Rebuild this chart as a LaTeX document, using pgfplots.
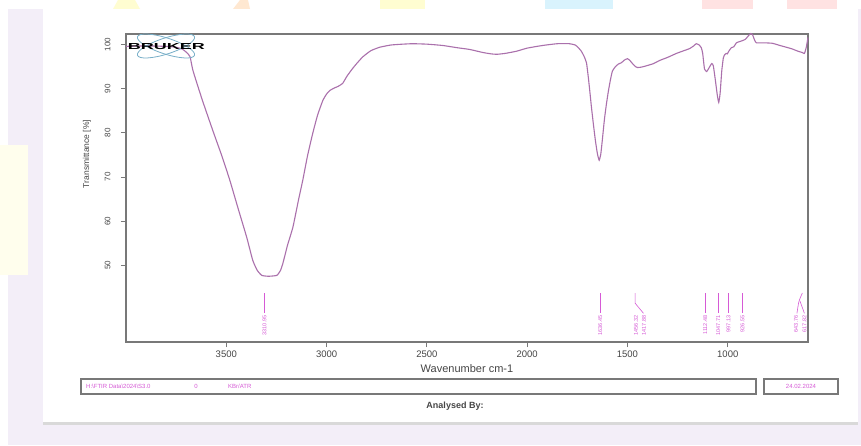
\documentclass[border=0pt]{standalone}
\usepackage{pgfplots}
\pgfplotsset{compat=1.18}
\usepackage{fontspec}
\setmainfont{Liberation Sans}
\definecolor{curve}{RGB}{170,112,172}
\definecolor{peak}{RGB}{214,90,214}
\definecolor{frame}{RGB}{120,120,120}
\definecolor{lav}{RGB}{243,238,248}
\definecolor{txt}{RGB}{70,70,70}
\definecolor{logoblue}{RGB}{120,175,200}
\pgfplotstableread{
wn T
4000 99.6
3900 99.7
3800 99.6
3750 99.4
3720 99.0
3700 98.3
3681 97.3
3666 94.1
3620 87.5
3567 80.5
3520 74.5
3482 69.2
3440 62.7
3398 56.3
3368 51.1
3345 48.8
3323 47.7
3290 47.5
3248 47.7
3230 48.8
3218 50.4
3195 54.5
3168 58.6
3140 64.8
3119 69.2
3095 74.8
3069 79.9
3045 84.0
3019 87.3
3000 88.8
2984 89.6
2960 90.2
2944 90.5
2920 91.2
2899 92.8
2870 94.6
2850 95.7
2820 97.2
2780 98.6
2735 99.4
2680 99.9
2620 100.1
2571 100.2
2500 100.1
2421 99.8
2350 99.3
2287 98.9
2220 98.2
2180 97.9
2152 97.8
2110 98.0
2053 98.5
2000 99.2
1923 99.8
1850 100.2
1789 100.2
1760 99.9
1749 99.5
1730 98.5
1715 97.2
1704 95.8
1695 92.5
1689 90.0
1680 86.0
1670 82.0
1660 78.3
1650 75.3
1641 73.8
1633 75.2
1625 78.5
1615 83.0
1605 86.5
1595 89.5
1585 92.0
1575 94.0
1560 95.0
1545 95.6
1530 95.9
1515 96.5
1500 96.8
1488 96.4
1475 95.7
1460 95.0
1450 94.8
1430 94.9
1405 95.2
1370 95.7
1340 96.4
1300 97.1
1256 98.0
1220 98.6
1190 99.1
1170 99.7
1157 100.2
1145 100.0
1132 99.3
1125 98.0
1116 94.5
1105 93.9
1095 94.6
1080 95.7
1072 95.2
1062 92.0
1052 88.5
1045 86.9
1038 89.0
1030 94.0
1022 97.0
1017 97.6
1008 98.0
1002 97.9
995 98.5
982 99.3
970 99.5
957 100.4
940 100.7
927 100.9
912 101.2
897 102.0
885 102.5
877 102.3
866 101.0
857 100.4
820 100.4
778 100.3
740 99.8
700 99.3
678 99.0
650 98.5
628 98.2
618 98.0
609 99.3
600 101.6
}\spectrum
\begin{document}
\begin{tikzpicture}[x=1pt,y=1pt]
% page background
\useasboundingbox (0,0) rectangle (861,445);
\fill[white] (0,0) rectangle (861,445);
\fill[lav] (8,0) rectangle (861,436);
\fill[yellow!7] (0,170) rectangle (28,300);
% watermark blobs at top
\fill[yellow!18] (113,436) -- (140,436) -- (135,445) -- (118,445) -- cycle;
\fill[orange!18] (233,436) -- (250,436) -- (248,445) -- (240,445) -- cycle;
\fill[yellow!18] (380,436) rectangle (425,445);
\fill[cyan!15] (545,436) rectangle (613,445);
\fill[pink!45] (702,436) rectangle (753,445);
\fill[pink!45] (787,436) rectangle (837,445);
% white card
\fill[black!15] (43,20) rectangle (858,23);
\fill[white] (43,23) rectangle (858,436);
% axis
\begin{axis}[
  at={(126pt,103pt)}, anchor=south west,
  scale only axis, width=682pt, height=308pt,
  x dir=reverse, xmin=600, xmax=4000,
  ymin=32.6, ymax=102.4,
  axis line style={frame, line width=1.3pt},
  xtick={1000,1500,2000,2500,3000,3500},
  ytick={50,60,70,80,90,100},
  tick align=outside, tick pos=left,
  major tick length=5pt,
  every tick/.style={frame, line width=0.8pt},
  /pgf/number format/assume math mode=true,
  /pgf/number format/1000 sep={},
  xticklabel style={font=\fontsize{9.5}{10}\selectfont, text=txt},
  yticklabel style={font=\fontsize{8}{9}\selectfont, text=txt, rotate=90, anchor=south, yshift=7pt},
  xlabel={Wavenumber cm-1},
  xlabel style={font=\fontsize{11}{12}\selectfont, text=txt},
  clip=false,
]
\addplot[curve, line width=1.1pt, smooth, tension=0.3] table[x=wn, y=T] {\spectrum};
% peak markers
\addplot[peak, line width=0.6pt] coordinates {(3310,43.7) (3310,39.1)};
\addplot[peak, line width=0.6pt] coordinates {(1636,43.7) (1636,39.1)};
\addplot[peak, line width=0.6pt] coordinates {(1462,43.7) (1462,41.4) (1420,39.1)};
\addplot[peak, line width=0.6pt] coordinates {(1112,43.7) (1112,39.1)};
\addplot[peak, line width=0.6pt] coordinates {(1047,43.7) (1047,39.1)};
\addplot[peak, line width=0.6pt] coordinates {(997,43.7) (997,39.1)};
\addplot[peak, line width=0.6pt] coordinates {(927,43.7) (927,39.1)};
\addplot[peak, line width=0.6pt, smooth] coordinates {(628,43.7) (645,41.8) (655,39.1)};
\addplot[peak, line width=0.6pt] coordinates {(640,41.9) (618,39.1)};
\begin{scope}[every node/.style={rotate=90, anchor=east, text=peak, font=\fontsize{5.5}{6}\selectfont, inner sep=0.5pt}]
\node at (axis cs:3310,38.8) {3310.95};
\node at (axis cs:1636,38.8) {1636.45};
\node at (axis cs:1458,38.8) {1456.32};
\node at (axis cs:1418,38.8) {1417.88};
\node at (axis cs:1112,38.8) {1112.48};
\node at (axis cs:1047,38.8) {1047.71};
\node at (axis cs:997,38.8) {997.13};
\node at (axis cs:927,38.8) {926.55};
\node at (axis cs:660,38.8) {643.76};
\node at (axis cs:618,38.8) {617.82};
\end{scope}
\end{axis}
% y label
\node[rotate=90, text=txt, font=\fontsize{8.5}{9}\selectfont] at (87,291) {Transmittance [\%]};
% Bruker logo
\draw[logoblue, line width=0.8pt, rotate around={18:(166,399)}] (166,399) ellipse (30 and 8);
\draw[logoblue, line width=0.8pt, rotate around={-18:(166,399)}] (166,399) ellipse (30 and 8);
\node[inner sep=0pt] at (166.5,398) {\resizebox{77pt}{6pt}{\bfseries BRUKER}};
% footer boxes
\draw[frame, line width=1.3pt] (81,51) rectangle (756,66);
\node[anchor=west, text=peak, font=\fontsize{6}{7}\selectfont, inner sep=0pt] at (86,58.5) {H:\textbackslash FTIR Data\textbackslash 2024\textbackslash S3.0};
\node[text=peak, font=\fontsize{6}{7}\selectfont, inner sep=0pt] at (196,58.5) {0};
\node[anchor=west, text=peak, font=\fontsize{6}{7}\selectfont, inner sep=0pt] at (228,58.5) {KBr/ATR};
\draw[frame, line width=1.3pt] (764,51) rectangle (838,66);
\node[text=peak, font=\fontsize{6}{7}\selectfont, inner sep=0pt] at (801,58.5) {24.02.2024};
\node[text=txt, font=\bfseries\fontsize{9}{10}\selectfont] at (455,39) {Analysed By:};
\end{tikzpicture}
\end{document}
